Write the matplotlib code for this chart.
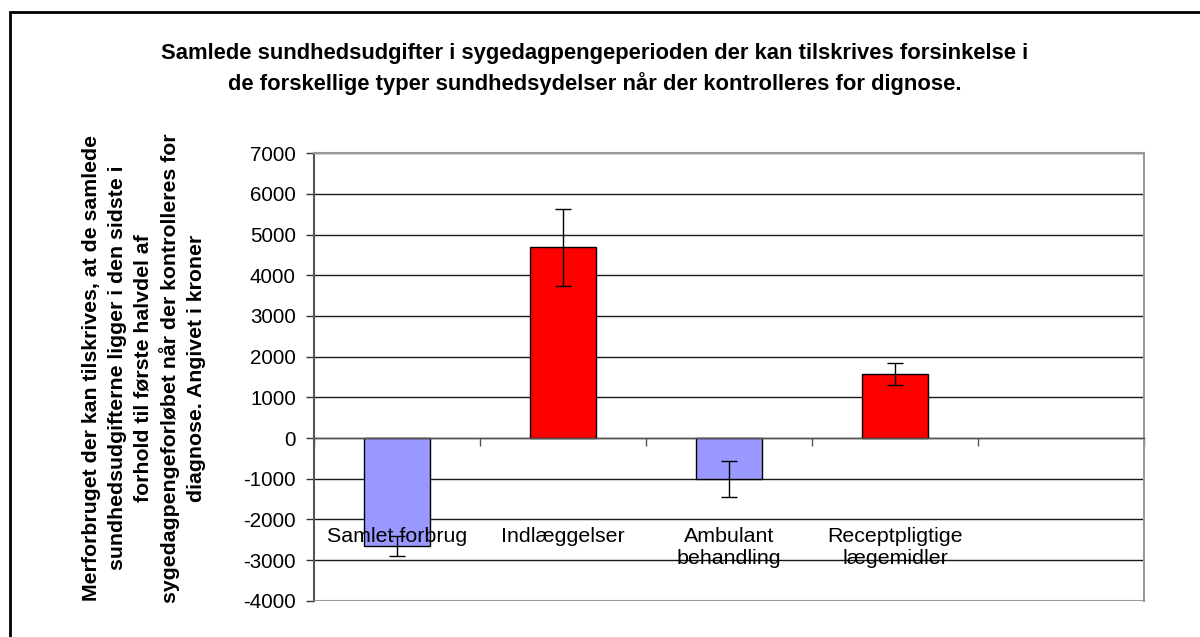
import numpy as np
import matplotlib.pyplot as plt
from matplotlib.patches import Rectangle

plt.rcParams['font.family'] = ['Liberation Sans', 'DejaVu Sans']
plt.rcParams['axes.unicode_minus'] = False

# Extra health spending by type of service (kroner), with error bars
categories = ['Samlet forbrug', 'Indlæggelser', 'Ambulant\nbehandling',
              'Receptpligtige\nlægemidler', '']
values = [-2665, 4690, -1010, 1570, np.nan]
errors = [245, 950, 435, 270, np.nan]
bar_colors = ['#9999FF', '#FF0000', '#9999FF', '#FF0000', '#9999FF']

y_ticks = np.arange(-4000, 7001, 1000)

fig = plt.figure(figsize=(12, 6.37), dpi=100)
fig.patch.set_facecolor('white')

# chart border (runs off the right/bottom edge)
fig.patches.append(Rectangle((10 / 1200, -0.1), 1.2, 1 - 12 / 637 + 0.1,
                             transform=fig.transFigure, fill=False,
                             edgecolor='black', linewidth=2))

ax = fig.add_axes([314 / 1200, 1 - 600.7 / 637, 830 / 1200, 447.4 / 637])

x = np.arange(len(categories))
ax.bar(x, values, width=0.4, color=bar_colors, edgecolor='black',
       linewidth=1, zorder=2)
ax.errorbar(x, values, yerr=errors, fmt='none', ecolor='black',
            elinewidth=1, capsize=5.5, capthick=1, zorder=3)

ax.set_xlim(-0.5, len(categories) - 0.5)
ax.set_ylim(y_ticks[0], y_ticks[-1])
ax.set_yticks(y_ticks)
ax.tick_params(axis='y', labelsize=14.8, length=6, width=1, color='#333333',
               pad=7)

# gridlines behind bars
ax.set_axisbelow(True)
ax.yaxis.grid(True, color='#1a1a1a', linewidth=1)

# category axis runs through zero, ticks between categories
ax.spines['bottom'].set_position(('data', 0))
ax.spines['bottom'].set_color('#555555')
ax.spines['bottom'].set_linewidth(1)
ax.set_xticks(np.arange(len(categories) + 1) - 0.5)
ax.set_xticklabels([])
ax.tick_params(axis='x', length=6, width=1, color='#555555')

ax.spines['left'].set_color('#555555')
ax.spines['left'].set_linewidth(1.5)
for side in ['top', 'right']:
    ax.spines[side].set_color('#999999')
    ax.spines[side].set_linewidth(1.5)
ax.axhline(y_ticks[0], color='#999999', linewidth=1.5, zorder=4)

# category labels sit low in the plot
for xi, name in zip(x, categories):
    ax.text(xi, -2190, name, ha='center', va='top', fontsize=15.4,
            linespacing=1.2, zorder=5)

fig.text(0.5 - 5 / 1200, 1 - 69 / 637,
         'Samlede sundhedsudgifter i sygedagpengeperioden der kan tilskrives forsinkelse i\n'
         'de forskellige typer sundhedsydelser når der kontrolleres for dignose.',
         ha='center', va='center', fontsize=15.8, fontweight='bold',
         linespacing=1.45)

fig.text(144 / 1200, 1 - 368 / 637,
         'Merforbruget der kan tilskrives, at de samlede\n'
         'sundhedsudgifterne ligger i den sidste i\n'
         'forhold til første halvdel af\n'
         'sygedagpengeforløbet når der kontrolleres for\n'
         'diagnose. Angivet i kroner',
         ha='center', va='center', rotation=90, fontsize=15.3,
         fontweight='bold', linespacing=1.43)

fig.savefig('out.png', dpi=100, facecolor='white')
